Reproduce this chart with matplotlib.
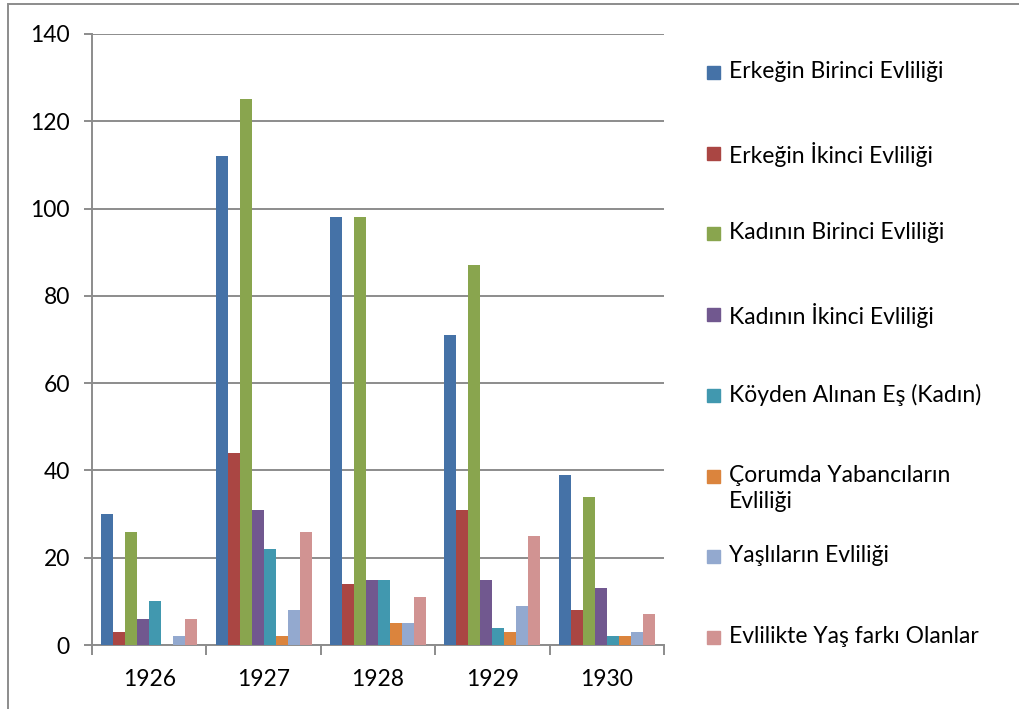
import numpy as np
import matplotlib.pyplot as plt
from matplotlib.patches import Rectangle

plt.rcParams['font.family'] = ['Lato', 'DejaVu Sans']

# ---- data ----
years = ["1926", "1927", "1928", "1929", "1930"]
series_names = [
    "Erkeğin Birinci Evliliği",
    "Erkeğin İkinci Evliliği",
    "Kadının Birinci Evliliği",
    "Kadının İkinci Evliliği",
    "Köyden Alınan Eş (Kadın)",
    "Çorumda Yabancıların\nEvliliği",
    "Yaşlıların Evliliği",
    "Evlilikte Yaş farkı Olanlar",
]
erkek_birinci = [30, 112, 98, 71, 39]
erkek_ikinci = [3, 44, 14, 31, 8]
kadin_birinci = [26, 125, 98, 87, 34]
kadin_ikinci = [6, 31, 15, 15, 13]
koyden = [10, 22, 15, 4, 2]
yabanci = [0, 2, 5, 3, 2]
yasli = [2, 8, 5, 9, 3]
yas_farki = [6, 26, 11, 25, 7]
values = [erkek_birinci, erkek_ikinci, kadin_birinci, kadin_ikinci,
          koyden, yabanci, yasli, yas_farki]
colors = ["#4572A7", "#AA4643", "#89A54E", "#71588F",
          "#4198AF", "#DB843D", "#93A9CF", "#D19392"]

W, H = 1019, 709
fig = plt.figure(figsize=(W / 100, H / 100), dpi=100)
ax = fig.add_axes([92 / W, 1 - 645 / H, (664 - 92) / W, (645 - 34) / H])

grid_c = "#8C8C8C"
x = np.arange(len(years))
bw = 0.105
n = len(values)
for i, (vals, c) in enumerate(zip(values, colors)):
    ax.bar(x + (i - (n - 1) / 2) * bw, vals, width=bw, color=c,
           edgecolor="none", zorder=3)

ax.set_xlim(-0.5, len(years) - 0.5)
ax.set_ylim(0, 140)
ax.set_yticks(np.arange(0, 141, 20))
ax.yaxis.grid(True, color=grid_c, linewidth=1.4, zorder=0)
ax.set_xticks(x)
ax.set_xticklabels(years)
ax.set_xticks(np.arange(-0.5, len(years), 1), minor=True)
ax.tick_params(axis='x', which='major', length=0, pad=17, labelsize=16.5)
ax.tick_params(axis='x', which='minor', length=7, width=1.4, color=grid_c)
ax.tick_params(axis='y', length=6, width=1.4, color=grid_c, pad=10, labelsize=16.5)
for s in ["top", "right"]:
    ax.spines[s].set_visible(False)
for s in ["left", "bottom"]:
    ax.spines[s].set_color(grid_c)
    ax.spines[s].set_linewidth(1.4)

# legend, drawn by hand to follow the Excel layout
y0, dy = 73, 80.7
for i, (name, c) in enumerate(zip(series_names, colors)):
    yc = y0 + i * dy
    fig.patches.append(Rectangle((707 / W, 1 - (yc + 6) / H), 13 / W, 13 / H,
                                 transform=fig.transFigure, color=c))
    fig.text(729 / W, 1 - (yc - 12) / H, name, fontsize=16.5, va="top",
             ha="left", linespacing=1.3)

# outer chart frame
fig.patches.append(Rectangle((8 / W, -0.01), 1.02, 1 - 4 / H + 0.01,
                             transform=fig.transFigure, fill=False,
                             edgecolor=grid_c, linewidth=1.4))

fig.savefig("out.png", dpi=100)
